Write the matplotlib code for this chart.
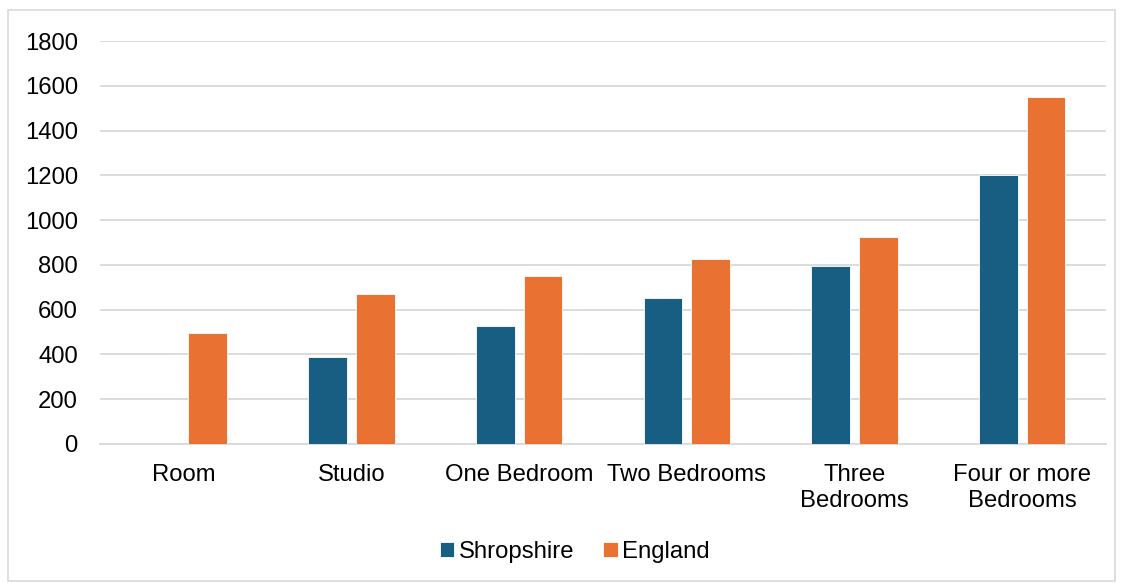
import numpy as np
import matplotlib.pyplot as plt
from matplotlib.patches import Rectangle

# data
categories = ['Room', 'Studio', 'One Bedroom', 'Two Bedrooms', 'Three\nBedrooms', 'Four or more\nBedrooms']
shropshire = [0, 390, 525, 650, 795, 1200]
england = [495, 670, 750, 825, 925, 1550]
yticks = [0, 200, 400, 600, 800, 1000, 1200, 1400, 1600, 1800]

plt.rcParams['font.family'] = ['Liberation Sans', 'DejaVu Sans']

fig = plt.figure(figsize=(11.21, 5.83), dpi=100)
ax = fig.add_axes([100 / 1121, 1 - 444 / 583, 1006 / 1121, 403 / 583])

# outer border of the chart area
fig.patches.append(Rectangle((8 / 1121, 2 / 583), 1107 / 1121, 571 / 583,
                             transform=fig.transFigure, fill=False,
                             edgecolor='#D9D9D9', lw=1.2))

x = np.arange(len(categories))
w = 0.232
ax.bar(x - 0.142, shropshire, w, color='#175E82', edgecolor='white', lw=0.6, label='Shropshire', zorder=3)
ax.bar(x + 0.142, england, w, color='#E97132', edgecolor='white', lw=0.6, label='England', zorder=3)

ax.set_xlim(-0.5, len(categories) - 0.5)
ax.set_ylim(0, 1800)
ax.set_yticks(yticks)
ax.set_xticks(x)
ax.set_xticklabels(categories, fontsize=17.2, linespacing=1.25)
ax.tick_params(axis='y', labelsize=17.2, length=0, pad=16)
ax.tick_params(axis='x', length=0, pad=14.5)
ax.grid(axis='y', color='#D9D9D9', lw=1.3, zorder=0)
for s in ['top', 'right', 'left']:
    ax.spines[s].set_visible(False)
ax.spines['bottom'].set_color('#D9D9D9')
ax.spines['bottom'].set_linewidth(1.3)

ax.legend(loc='center', bbox_to_anchor=(575 / 1121, 1 - 552 / 583), bbox_transform=fig.transFigure,
          ncol=2, frameon=False, fontsize=17.2, handlelength=0.6, handleheight=0.6,
          handletextpad=0.2, columnspacing=1.2)

plt.savefig('out.png', dpi=100)
